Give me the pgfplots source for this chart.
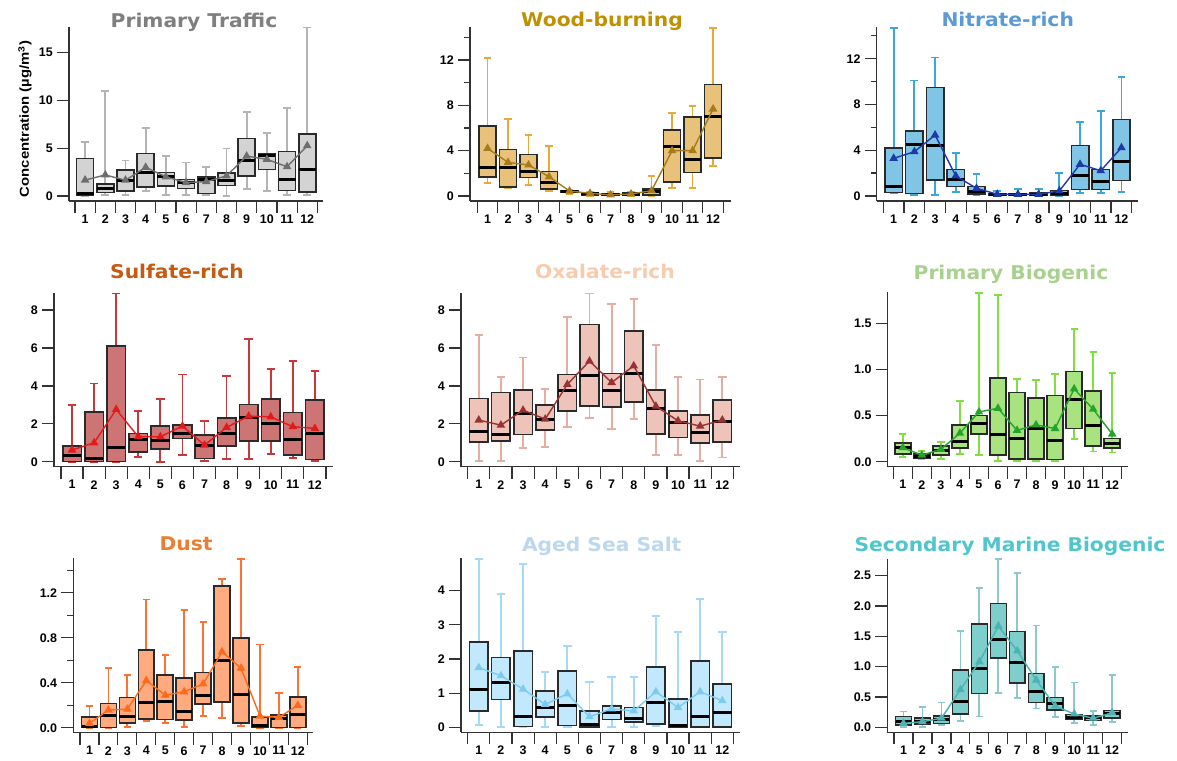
\documentclass[border=0pt]{standalone}
\usepackage{fontspec}
\setmainfont{Liberation Sans}
\newfontfamily\titlefont[FakeStretch=1.07]{DejaVu Sans}
\newfontfamily\ylabfont[FakeStretch=1.15]{Liberation Sans}
\usepackage{pgfplots}
\usepackage{pgfplotstable}
\pgfplotsset{compat=1.18}
\usepgfplotslibrary{statistics}

% m lw lq med uq uw mean
\pgfplotstableread{
m lw lq med uq uw mean
1 0.0 0.05 0.28 3.93 5.67 1.67
2 0.1 0.35 0.8 1.25 11.0 2.2
3 0.1 0.55 1.57 2.7 3.7 1.65
4 0.55 0.97 2.47 4.45 7.13 3.0
5 0.1 1.04 2.0 2.47 4.2 2.0
6 0.1 0.8 1.4 1.74 3.5 1.4
7 0.1 0.28 1.77 2.0 3.06 1.5
8 0.0 1.08 1.57 2.43 4.97 2.1
9 0.73 2.12 3.69 6.02 8.8 4.17
10 0.52 2.78 4.2 4.45 6.6 3.83
11 0.1 0.56 1.77 4.63 9.2 3.06
12 0.1 0.45 2.78 6.47 17.6 5.25
}\tblA
\pgfplotstableread{
m lw lq med uq uw mean
1 1.18 1.7 2.5 6.2 12.2 4.2
2 0.68 0.82 2.5 4.1 6.8 2.97
3 0.97 1.62 2.15 3.68 5.4 2.74
4 0.47 0.62 1.18 2.15 4.44 1.7
5 0.18 0.3 0.38 0.47 0.53 0.44
6 0.03 0.1 0.18 0.3 0.32 0.24
7 0.0 0.03 0.09 0.18 0.32 0.1
8 0.0 0.06 0.15 0.24 0.32 0.18
9 0.03 0.1 0.38 0.62 1.8 0.47
10 0.74 1.26 4.35 5.82 7.3 4.0
11 0.68 2.06 3.24 7.0 7.94 4.0
12 2.68 3.38 7.0 9.85 14.85 7.68
}\tblB
\pgfplotstableread{
m lw lq med uq uw mean
1 0.23 0.3 0.82 4.17 14.7 3.29
2 0.09 0.23 4.54 5.68 10.1 3.87
3 0.09 1.4 4.37 9.47 12.1 5.33
4 0.38 0.82 1.4 2.33 3.73 1.75
5 0.09 0.17 0.38 0.82 1.92 0.67
6 0.0 0.03 0.09 0.23 0.44 0.15
7 0.0 0.03 0.09 0.18 0.58 0.15
8 0.0 0.03 0.15 0.29 0.58 0.15
9 0.03 0.09 0.23 0.47 2.04 0.44
10 0.29 0.58 1.75 4.4 6.44 2.77
11 0.23 0.58 1.25 2.33 7.4 2.21
12 0.38 1.34 3.0 6.7 10.4 4.22
}\tblC
\pgfplotstableread{
m lw lq med uq uw mean
1 0.0 0.02 0.32 0.84 2.99 0.62
2 0.0 0.02 0.18 2.64 4.13 1.0
3 0.0 0.02 0.74 6.12 8.87 2.76
4 0.26 0.53 1.2 1.49 2.67 1.32
5 0.0 0.67 1.1 1.9 3.3 1.32
6 0.35 1.23 1.49 1.93 4.6 1.88
7 0.04 0.18 0.88 1.41 2.16 0.88
8 0.14 0.84 1.49 2.32 4.53 1.81
9 0.14 1.1 2.32 3.02 6.47 2.41
10 0.4 1.1 2.02 3.3 4.89 2.37
11 0.21 0.35 1.18 2.6 5.3 1.85
12 0.04 0.12 1.49 3.25 4.78 1.76
}\tblD
\pgfplotstableread{
m lw lq med uq uw mean
1 0.04 1.05 1.58 3.34 6.68 2.2
2 0.04 1.09 1.46 3.66 4.45 1.93
3 0.74 1.44 2.55 3.78 5.5 2.72
4 0.76 1.67 2.23 2.99 3.83 2.25
5 1.85 2.67 3.78 4.6 7.65 4.08
6 2.32 2.95 4.53 7.24 8.87 5.31
7 1.72 2.9 3.78 4.66 8.3 4.18
8 2.25 3.16 4.66 6.9 8.6 5.06
9 0.35 1.46 2.81 3.78 6.15 2.93
10 0.35 1.28 2.06 2.69 4.45 2.16
11 0.04 1.0 1.55 2.46 4.34 1.88
12 0.23 1.05 2.11 3.25 4.45 2.2
}\tblE
\pgfplotstableread{
m lw lq med uq uw mean
1 0.047 0.083 0.155 0.2 0.30 0.152
2 0.03 0.043 0.061 0.083 0.12 0.072
3 0.03 0.072 0.126 0.17 0.217 0.134
4 0.08 0.152 0.217 0.4 0.66 0.31
5 0.072 0.3 0.42 0.5 1.83 0.54
6 0.01 0.072 0.29 0.91 1.81 0.58
7 0.01 0.03 0.25 0.75 0.9 0.34
8 0.01 0.03 0.36 0.69 0.89 0.40
9 0.005 0.025 0.23 0.72 0.95 0.36
10 0.25 0.36 0.67 0.98 1.44 0.79
11 0.11 0.17 0.39 0.77 1.19 0.57
12 0.1 0.15 0.2 0.25 0.96 0.30
}\tblF
\pgfplotstableread{
m lw lq med uq uw mean
1 0.0 0.003 0.01 0.098 0.196 0.04
2 0.0 0.003 0.113 0.216 0.53 0.157
3 0.01 0.04 0.104 0.27 0.47 0.166
4 0.06 0.077 0.225 0.69 1.14 0.42
5 0.04 0.074 0.237 0.47 0.65 0.29
6 0.01 0.068 0.142 0.44 1.05 0.32
7 0.104 0.21 0.29 0.49 0.94 0.39
8 0.09 0.23 0.6 1.26 1.32 0.675
9 0.015 0.04 0.3 0.8 1.5 0.53
10 0.0 0.003 0.024 0.098 0.74 0.104
11 0.0 0.003 0.083 0.113 0.31 0.092
12 0.0 0.003 0.12 0.276 0.54 0.2
}\tblG
\pgfplotstableread{
m lw lq med uq uw mean
1 0.07 0.48 1.12 2.49 4.93 1.75
2 0.02 0.82 1.32 2.04 3.9 1.51
3 0.0 0.02 0.31 2.23 4.78 1.12
4 0.02 0.31 0.58 1.06 1.63 0.67
5 0.02 0.05 0.65 1.65 2.39 0.98
6 0.0 0.01 0.07 0.48 1.32 0.31
7 0.02 0.23 0.44 0.63 1.48 0.54
8 0.02 0.15 0.26 0.58 1.48 0.48
9 0.05 0.1 0.73 1.76 3.26 1.04
10 0.0 0.01 0.04 0.83 2.78 0.58
11 0.0 0.01 0.31 1.95 3.76 1.04
12 0.0 0.01 0.43 1.27 2.78 0.78
}\tblH
\pgfplotstableread{
m lw lq med uq uw mean
1 0.01 0.04 0.093 0.18 0.26 0.066
2 0.01 0.055 0.093 0.15 0.33 0.093
3 0.04 0.066 0.13 0.19 0.41 0.15
4 0.11 0.22 0.42 0.95 1.59 0.62
5 0.18 0.56 0.97 1.70 2.3 1.08
6 0.56 1.14 1.45 2.04 2.77 1.67
7 0.48 0.73 1.07 1.58 2.54 1.26
8 0.31 0.41 0.59 0.89 1.68 0.78
9 0.165 0.29 0.4 0.49 1.0 0.35
10 0.077 0.13 0.165 0.21 0.74 0.22
11 0.04 0.11 0.165 0.19 0.27 0.15
12 0.093 0.15 0.22 0.275 0.86 0.24
}\tblI

\definecolor{axcol}{HTML}{333333}
\definecolor{boxedge}{HTML}{2A2A2A}
% titles, fills, whiskers, means
\definecolor{tA}{HTML}{7F7F7F}\definecolor{fA}{HTML}{D3D3D3}\definecolor{wA}{HTML}{B4B4B4}\definecolor{mA}{HTML}{6E6E6E}
\definecolor{tB}{HTML}{BF9000}\definecolor{fB}{HTML}{E8C27A}\definecolor{wB}{HTML}{E8A93A}\definecolor{mB}{HTML}{A67C1B}
\definecolor{tC}{HTML}{5B9BD5}\definecolor{fC}{HTML}{80C4E6}\definecolor{wC}{HTML}{3AA8E0}\definecolor{mC}{HTML}{1C3AA9}
\definecolor{tD}{HTML}{C55A11}\definecolor{fD}{HTML}{CD7474}\definecolor{wD}{HTML}{C8383A}\definecolor{mD}{HTML}{E31A1C}
\definecolor{tE}{HTML}{F8CBAD}\definecolor{fE}{HTML}{EEC3BA}\definecolor{wE}{HTML}{E6ADA3}\definecolor{mE}{HTML}{983333}
\definecolor{tF}{HTML}{A9D18E}\definecolor{fF}{HTML}{A9E37F}\definecolor{wF}{HTML}{80E040}\definecolor{mF}{HTML}{22A52A}
\definecolor{tG}{HTML}{ED7D31}\definecolor{fG}{HTML}{FFAA7F}\definecolor{wG}{HTML}{FF7034}\definecolor{mG}{HTML}{FF6A1A}
\definecolor{tH}{HTML}{BDD7EE}\definecolor{fH}{HTML}{C2E8FD}\definecolor{wH}{HTML}{A3DAF7}\definecolor{mH}{HTML}{7CCCF2}
\definecolor{tI}{HTML}{4EC6CC}\definecolor{fI}{HTML}{7ECECB}\definecolor{wI}{HTML}{8DC8CC}\definecolor{mI}{HTML}{4BB3B5}

\newcommand{\tickfont}{\bfseries\fontsize{12.5}{13}\selectfont}
\newcommand{\ttlfont}{\titlefont\bfseries\fontsize{19}{21}\selectfont}

\pgfplotsset{
  base/.style={
    scale only axis,
    axis lines*=left,
    axis line style={line width=1.3bp, draw=axcol},
    tick style={line width=1.2bp, draw=axcol},
    tick align=outside,
    major tick length=12bp,
    minor tick length=6bp,
    xtick={0.5,1.5,...,12.5},
    x tick label as interval,
    xticklabels={1,2,3,4,5,6,7,8,9,10,11,12},
    ticklabel style={font=\tickfont},
    yticklabel style={inner xsep=4bp},
    xticklabel style={inner ysep=1.5bp},
    /pgf/number format/assume math mode=true,
    clip=false,
    boxplot/draw direction=y,
    boxplot/box extend=0.84,
    boxplot/whisker extend=0.38,
    boxplot/every median/.style={draw=black, line width=3bp},
  },
  cols/.style n args={2}{
    boxplot/every box/.style={draw=boxedge, line width=1.6bp, fill=#1},
    boxplot/every whisker/.style={draw=#2, line width=1.8bp},
  },
  dec1/.style={yticklabel style={/pgf/number format/.cd, fixed, fixed zerofill, precision=1}},
}

\newcommand{\drawboxes}[1]{%
  \pgfplotsinvokeforeach{0,...,11}{%
    \pgfplotstablegetelem{##1}{lw}\of#1\let\LW\pgfplotsretval
    \pgfplotstablegetelem{##1}{lq}\of#1\let\LQ\pgfplotsretval
    \pgfplotstablegetelem{##1}{med}\of#1\let\MED\pgfplotsretval
    \pgfplotstablegetelem{##1}{uq}\of#1\let\UQ\pgfplotsretval
    \pgfplotstablegetelem{##1}{uw}\of#1\let\UW\pgfplotsretval
    \pgfplotstablegetelem{##1}{m}\of#1\let\POS\pgfplotsretval
    \edef\tmpplot{\noexpand\addplot[boxplot prepared={draw position=\POS, lower whisker=\LW, lower quartile=\LQ, median=\MED, upper quartile=\UQ, upper whisker=\UW}] coordinates {};}%
    \tmpplot
  }}
\newcommand{\drawmean}[2]{%
  \addplot[draw=#2, line width=1.4bp, mark=triangle*, mark size=3.6bp, mark options={fill=#2, draw=#2, solid}] table[x=m, y=mean] {#1};}

\begin{document}
\begin{tikzpicture}
\path[use as bounding box] (0,0) rectangle (1177bp,-761bp);

% Row 1
\begin{axis}[base, cols={fA}{wA}, at={(69bp,-201bp)}, anchor=south west,
  width=254bp, height=174.5bp, xmin=0.203, xmax=12.78, ymin=-0.52, ymax=17.7,
  ytick={0,5,10,15}]
\drawboxes{\tblA}
\drawmean{\tblA}{mA}
\end{axis}
\begin{axis}[base, cols={fB}{wB}, at={(470bp,-201bp)}, anchor=south west,
  width=260.7bp, height=173.8bp, xmin=0.144, xmax=12.86, ymin=-0.44, ymax=14.9,
  ytick={0,4,8,12}, minor ytick={2,6,10,14}]
\drawboxes{\tblB}
\drawmean{\tblB}{mB}
\end{axis}
\begin{axis}[base, cols={fC}{wC}, at={(876.7bp,-201bp)}, anchor=south west,
  width=261.3bp, height=174.3bp, xmin=0.18, xmax=12.8, ymin=-0.44, ymax=14.8,
  ytick={0,4,8,12}, minor ytick={2,6,10,14}]
\drawboxes{\tblC}
\drawmean{\tblC}{mC}
\end{axis}

% Row 2
\begin{axis}[base, cols={fD}{wD}, at={(54bp,-466.7bp)}, anchor=south west,
  width=279bp, height=173.7bp, xmin=0.183, xmax=12.82, ymin=-0.26, ymax=8.9,
  ytick={0,2,4,6,8}]
\drawboxes{\tblD}
\drawmean{\tblD}{mD}
\end{axis}
\begin{axis}[base, cols={fE}{wE}, at={(461bp,-466.7bp)}, anchor=south west,
  width=279bp, height=173.7bp, xmin=0.197, xmax=12.8, ymin=-0.26, ymax=8.9,
  ytick={0,2,4,6,8}]
\drawboxes{\tblE}
\drawmean{\tblE}{mE}
\end{axis}
\begin{axis}[base, dec1, cols={fF}{wF}, at={(887.7bp,-466.7bp)}, anchor=south west,
  width=240bp, height=174.6bp, xmin=0.206, xmax=12.815, ymin=-0.054, ymax=1.84,
  ytick={0,0.5,1,1.5}]
\drawboxes{\tblF}
\drawmean{\tblF}{mF}
\end{axis}

% Row 3
\begin{axis}[base, dec1, cols={fG}{wG}, at={(73.3bp,-732.7bp)}, anchor=south west,
  width=239.7bp, height=174.8bp, xmin=0.146, xmax=12.8, ymin=-0.044, ymax=1.51,
  ytick={0,0.4,0.8,1.2}, minor ytick={0.2,0.6,1.0,1.4}]
\drawboxes{\tblG}
\drawmean{\tblG}{mG}
\end{axis}
\begin{axis}[base, cols={fH}{wH}, at={(461bp,-732.3bp)}, anchor=south west,
  width=279bp, height=174.1bp, xmin=0.197, xmax=12.8, ymin=-0.146, ymax=4.95,
  ytick={0,1,2,3,4}]
\drawboxes{\tblH}
\drawmean{\tblH}{mH}
\end{axis}
\begin{axis}[base, dec1, cols={fI}{wI}, at={(887.3bp,-732.3bp)}, anchor=south west,
  width=240.4bp, height=173.6bp, xmin=0.147, xmax=12.82, ymin=-0.082, ymax=2.78,
  ytick={0,0.5,1,1.5,2,2.5}]
\drawboxes{\tblI}
\drawmean{\tblI}{mI}
\end{axis}

% Titles (anchored at baseline)
\node[font=\ttlfont, text=tA, anchor=base, inner sep=0pt] at (194bp,-27.3bp) {Primary Traffic};
\node[font=\ttlfont, text=tB, anchor=base, inner sep=0pt] at (602bp,-26.7bp) {Wood-burning};
\node[font=\ttlfont, text=tC, anchor=base, inner sep=0pt] at (1007.7bp,-26bp) {Nitrate-rich};
\node[font=\ttlfont, text=tD, anchor=base, inner sep=0pt] at (177bp,-278.3bp) {Sulfate-rich};
\node[font=\ttlfont, text=tE, anchor=base, inner sep=0pt] at (605bp,-278.3bp) {Oxalate-rich};
\node[font=\ttlfont, text=tF, anchor=base, inner sep=0pt] at (1011bp,-279bp) {Primary Biogenic};
\node[font=\ttlfont, text=tG, anchor=base, inner sep=0pt] at (186bp,-550.7bp) {Dust};
\node[font=\ttlfont, text=tH, anchor=base, inner sep=0pt] at (601.7bp,-551.5bp) {Aged Sea Salt};
\node[font=\ttlfont, text=tI, anchor=base, inner sep=0pt] at (1010bp,-551.7bp) {Secondary Marine Biogenic};

% y label
\node[rotate=90, font=\ylabfont\bfseries\fontsize{13}{14}\selectfont] at (25bp,-119bp) {Concentration (µg/m\textsuperscript{3})};
\end{tikzpicture}
\end{document}
